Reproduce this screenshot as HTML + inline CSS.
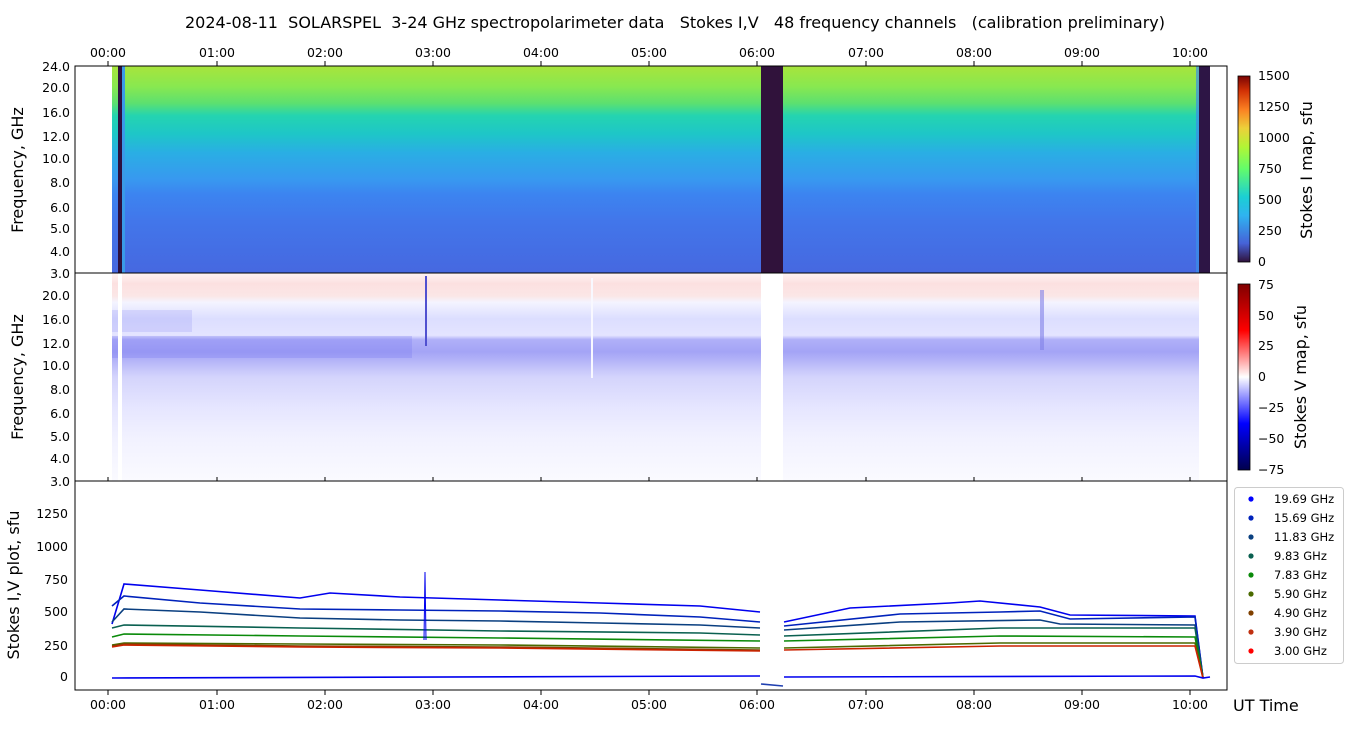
<!DOCTYPE html>
<html><head><meta charset="utf-8"><style>
body{margin:0;background:#fff;width:1350px;height:725px;overflow:hidden;font-family:"Liberation Sans","DejaVu Sans",sans-serif}
text{font-family:"DejaVu Sans","Liberation Sans",sans-serif;fill:#000;white-space:pre}
</style></head><body>
<svg width="1350" height="725" viewBox="0 0 1350 725" xmlns="http://www.w3.org/2000/svg">
<defs>
<linearGradient id="gi" x1="0" y1="0" x2="0" y2="1">
<stop offset="0" stop-color="#a8e43c"/><stop offset="0.1" stop-color="#88e850"/>
<stop offset="0.18" stop-color="#5ce070"/><stop offset="0.24" stop-color="#24d4b0"/>
<stop offset="0.33" stop-color="#1ec6c8"/><stop offset="0.42" stop-color="#2aaee4"/>
<stop offset="0.55" stop-color="#3898f0"/><stop offset="0.62" stop-color="#3c84f0"/>
<stop offset="0.75" stop-color="#4276ea"/><stop offset="1" stop-color="#4668e0"/>
</linearGradient>
<linearGradient id="gv" x1="0" y1="0" x2="0" y2="1">
<stop offset="0" stop-color="#fff4f4"/><stop offset="0.05" stop-color="#fce0e0"/>
<stop offset="0.11" stop-color="#fbe6e6"/><stop offset="0.14" stop-color="#f4f4ff"/>
<stop offset="0.22" stop-color="#dcdeff"/><stop offset="0.3" stop-color="#e4e4ff"/>
<stop offset="0.32" stop-color="#b0b0f8"/><stop offset="0.38" stop-color="#a4a4f6"/>
<stop offset="0.5" stop-color="#d4d4fc"/><stop offset="0.65" stop-color="#e6e6ff"/>
<stop offset="0.8" stop-color="#f2f2ff"/><stop offset="1" stop-color="#fafaff"/>
</linearGradient>
<linearGradient id="cbi" x1="0" y1="1" x2="0" y2="0">
<stop offset="0" stop-color="#30123b"/><stop offset="0.1" stop-color="#4662d8"/>
<stop offset="0.25" stop-color="#2fb3f0"/><stop offset="0.35" stop-color="#1bcfd4"/>
<stop offset="0.5" stop-color="#62fc6b"/><stop offset="0.62" stop-color="#b2f535"/>
<stop offset="0.72" stop-color="#edd03a"/><stop offset="0.82" stop-color="#fb8022"/>
<stop offset="0.92" stop-color="#d23105"/><stop offset="1" stop-color="#7a0403"/>
</linearGradient>
<linearGradient id="cbv" x1="0" y1="1" x2="0" y2="0">
<stop offset="0" stop-color="#00004c"/><stop offset="0.25" stop-color="#0000ff"/>
<stop offset="0.5" stop-color="#ffffff"/><stop offset="0.75" stop-color="#ff0000"/>
<stop offset="1" stop-color="#800000"/>
</linearGradient>
</defs>
<text x="675" y="28" font-size="16" text-anchor="middle" xml:space="preserve">2024-08-11  SOLARSPEL  3-24 GHz spectropolarimeter data   Stokes I,V   48 frequency channels   (calibration preliminary)</text>

<!-- top panel -->
<rect x="112" y="66" width="1098" height="207" fill="url(#gi)"/>
<rect x="118" y="66" width="4" height="207" fill="#2d1040"/>
<rect x="122" y="66" width="3" height="207" fill="#3a9ae8"/>
<rect x="761" y="66" width="22" height="207" fill="#30123b"/>
<rect x="1199" y="66" width="11" height="207" fill="#2d1545"/>
<rect x="1196" y="66" width="3" height="207" fill="#3a90e8" opacity="0.7"/>
<rect x="75" y="66" width="1152" height="207" fill="none" stroke="#000"/>

<!-- middle -->
<rect x="112" y="273" width="1098" height="208" fill="url(#gv)"/>
<rect x="112" y="336" width="300" height="22" fill="#7070f0" opacity="0.25"/>
<rect x="112" y="310" width="80" height="22" fill="#8080f0" opacity="0.2"/>
<rect x="118" y="273" width="4" height="208" fill="#fff"/>
<rect x="761" y="273" width="22" height="208" fill="#fff"/>
<rect x="1199" y="273" width="28" height="208" fill="#fff"/>
<rect x="425" y="276" width="2" height="70" fill="#5050d0"/>
<rect x="591" y="278" width="2" height="100" fill="#f8f8ff"/>
<rect x="1040" y="290" width="4" height="60" fill="#8080e8" opacity="0.6"/>
<rect x="75" y="273" width="1152" height="208" fill="none" stroke="#000"/>

<!-- bottom -->
<rect x="75" y="481" width="1152" height="209" fill="none" stroke="#000"/>
<g fill="none" stroke-width="1.6">
<polyline stroke="#0000ee" points="112,624 124,584 200,590 300,598 330,593 400,597 500,600 600,603 700,606 760,612"/>
<polyline stroke="#0000ee" points="784,622 850,608 950,603 980,601 1040,607 1070,615 1195,616 1203,678"/>
<polyline stroke="#0022bb" points="112,606 124,596 200,603 300,609 400,610 500,611 600,613 700,617 760,622"/>
<polyline stroke="#0022bb" points="784,626 900,614 1000,612 1040,611 1070,619 1195,617 1203,678"/>
<polyline stroke="#0a3f80" points="112,622 124,609 200,612 300,618 400,620 500,621 600,623 700,625 760,628"/>
<polyline stroke="#0a3f80" points="784,630 900,622 1040,620 1060,624 1195,625 1203,678"/>
<polyline stroke="#0a6050" points="112,628 124,625 300,628 500,631 700,633 760,635"/>
<polyline stroke="#0a6050" points="784,636 1000,628 1195,628 1203,678"/>
<polyline stroke="#0a8a0a" points="112,637 124,634 300,636 500,638 760,641"/>
<polyline stroke="#0a8a0a" points="784,641 1000,636 1195,637 1203,678"/>
<polyline stroke="#4a6a00" points="112,645 124,643 300,644 500,645 760,648"/>
<polyline stroke="#4a6a00" points="784,648 1000,643 1195,643 1203,678"/>
<polyline stroke="#804000" points="112,646 124,644 300,646 500,647 760,650"/>
<polyline stroke="#cc2200" points="112,647 124,645 300,647 500,648 760,651"/>
<polyline stroke="#cc2200" points="784,650 1000,646 1195,646 1203,678"/>
<polyline stroke="#0000ee" points="112,678 760,676"/>
<polyline stroke="#0000ee" points="784,677 1195,676 1203,678 1210,677"/>
<polyline stroke="#2040b0" points="761,684 783,686"/>
</g>
<polyline stroke="#0000ee" stroke-width="1" fill="none" points="424,640 425,572 426,640"/>

<g font-size="12.5" text-anchor="middle">
<text x="108" y="57">00:00</text><text x="217" y="57">01:00</text><text x="325" y="57">02:00</text><text x="433" y="57">03:00</text><text x="541" y="57">04:00</text><text x="649" y="57">05:00</text><text x="757" y="57">06:00</text><text x="866" y="57">07:00</text><text x="974" y="57">08:00</text><text x="1082" y="57">09:00</text><text x="1190" y="57">10:00</text>
<text x="108" y="709">00:00</text><text x="217" y="709">01:00</text><text x="325" y="709">02:00</text><text x="433" y="709">03:00</text><text x="541" y="709">04:00</text><text x="649" y="709">05:00</text><text x="757" y="709">06:00</text><text x="866" y="709">07:00</text><text x="974" y="709">08:00</text><text x="1082" y="709">09:00</text><text x="1190" y="709">10:00</text>
</g>
<g stroke="#000">
<path d="M108 66v-5M217 66v-5M325 66v-5M433 66v-5M541 66v-5M649 66v-5M757 66v-5M866 66v-5M974 66v-5M1082 66v-5M1190 66v-5M108 690v5M217 690v5M325 690v5M433 690v5M541 690v5M649 690v5M757 690v5M866 690v5M974 690v5M1082 690v5M1190 690v5M108 481v-4M217 481v-4M325 481v-4M433 481v-4M541 481v-4M649 481v-4M757 481v-4M866 481v-4M974 481v-4M1082 481v-4M1190 481v-4"/>
</g>
<g font-size="12.5" text-anchor="end">
<text x="70" y="71">24.0</text><text x="70" y="92">20.0</text><text x="70" y="117">16.0</text><text x="70" y="141">12.0</text><text x="70" y="163">10.0</text><text x="70" y="187">8.0</text><text x="70" y="212">6.0</text><text x="70" y="233">5.0</text><text x="70" y="256">4.0</text><text x="70" y="278">3.0</text>
<text x="70" y="300">20.0</text><text x="70" y="324">16.0</text><text x="70" y="348">12.0</text><text x="70" y="370">10.0</text><text x="70" y="394">8.0</text><text x="70" y="418">6.0</text><text x="70" y="441">5.0</text><text x="70" y="463">4.0</text><text x="70" y="486">3.0</text>
<text x="68" y="681">0</text><text x="68" y="650">250</text><text x="68" y="616">500</text><text x="68" y="584">750</text><text x="68" y="551">1000</text><text x="68" y="518">1250</text>
</g>
<g font-size="16" text-anchor="middle">
<text transform="translate(23,170) rotate(-90)">Frequency, GHz</text>
<text transform="translate(23,377) rotate(-90)">Frequency, GHz</text>
<text transform="translate(19,585) rotate(-90)">Stokes I,V plot, sfu</text>
<text transform="translate(1312,170) rotate(-90)">Stokes I map, sfu</text>
<text transform="translate(1306,377) rotate(-90)">Stokes V map, sfu</text>
</g>
<text x="1233" y="711" font-size="16">UT Time</text>

<rect x="1238" y="76" width="12" height="186" fill="url(#cbi)" stroke="#000" stroke-width="0.8"/>
<g font-size="12.5"><text x="1258" y="80">1500</text><text x="1258" y="111">1250</text><text x="1258" y="142">1000</text><text x="1258" y="173">750</text><text x="1258" y="204">500</text><text x="1258" y="235">250</text><text x="1258" y="266">0</text>
<text x="1258" y="289">75</text><text x="1258" y="320">50</text><text x="1258" y="350">25</text><text x="1258" y="381">0</text><text x="1258" y="412">−25</text><text x="1258" y="443">−50</text><text x="1258" y="474">−75</text></g>
<rect x="1238" y="284" width="12" height="186" fill="url(#cbv)" stroke="#000" stroke-width="0.8"/>

<rect x="1234.5" y="487.5" width="109" height="176" rx="3" fill="#fff" stroke="#ccc"/>
<g font-size="11.5">
<circle cx="1251" cy="499" r="2.6" fill="#0000ff"/><text x="1274" y="503">19.69 GHz</text>
<circle cx="1251" cy="518" r="2.6" fill="#0022bb"/><text x="1274" y="522">15.69 GHz</text>
<circle cx="1251" cy="537" r="2.6" fill="#0a4080"/><text x="1274" y="541">11.83 GHz</text>
<circle cx="1251" cy="556" r="2.6" fill="#0a6050"/><text x="1274" y="560">9.83 GHz</text>
<circle cx="1251" cy="575" r="2.6" fill="#0a8a0a"/><text x="1274" y="579">7.83 GHz</text>
<circle cx="1251" cy="594" r="2.6" fill="#4a6a00"/><text x="1274" y="598">5.90 GHz</text>
<circle cx="1251" cy="613" r="2.6" fill="#804000"/><text x="1274" y="617">4.90 GHz</text>
<circle cx="1251" cy="632" r="2.6" fill="#c03010"/><text x="1274" y="636">3.90 GHz</text>
<circle cx="1251" cy="651" r="2.6" fill="#ff0000"/><text x="1274" y="655">3.00 GHz</text>
</g>
</svg>
</body></html>
